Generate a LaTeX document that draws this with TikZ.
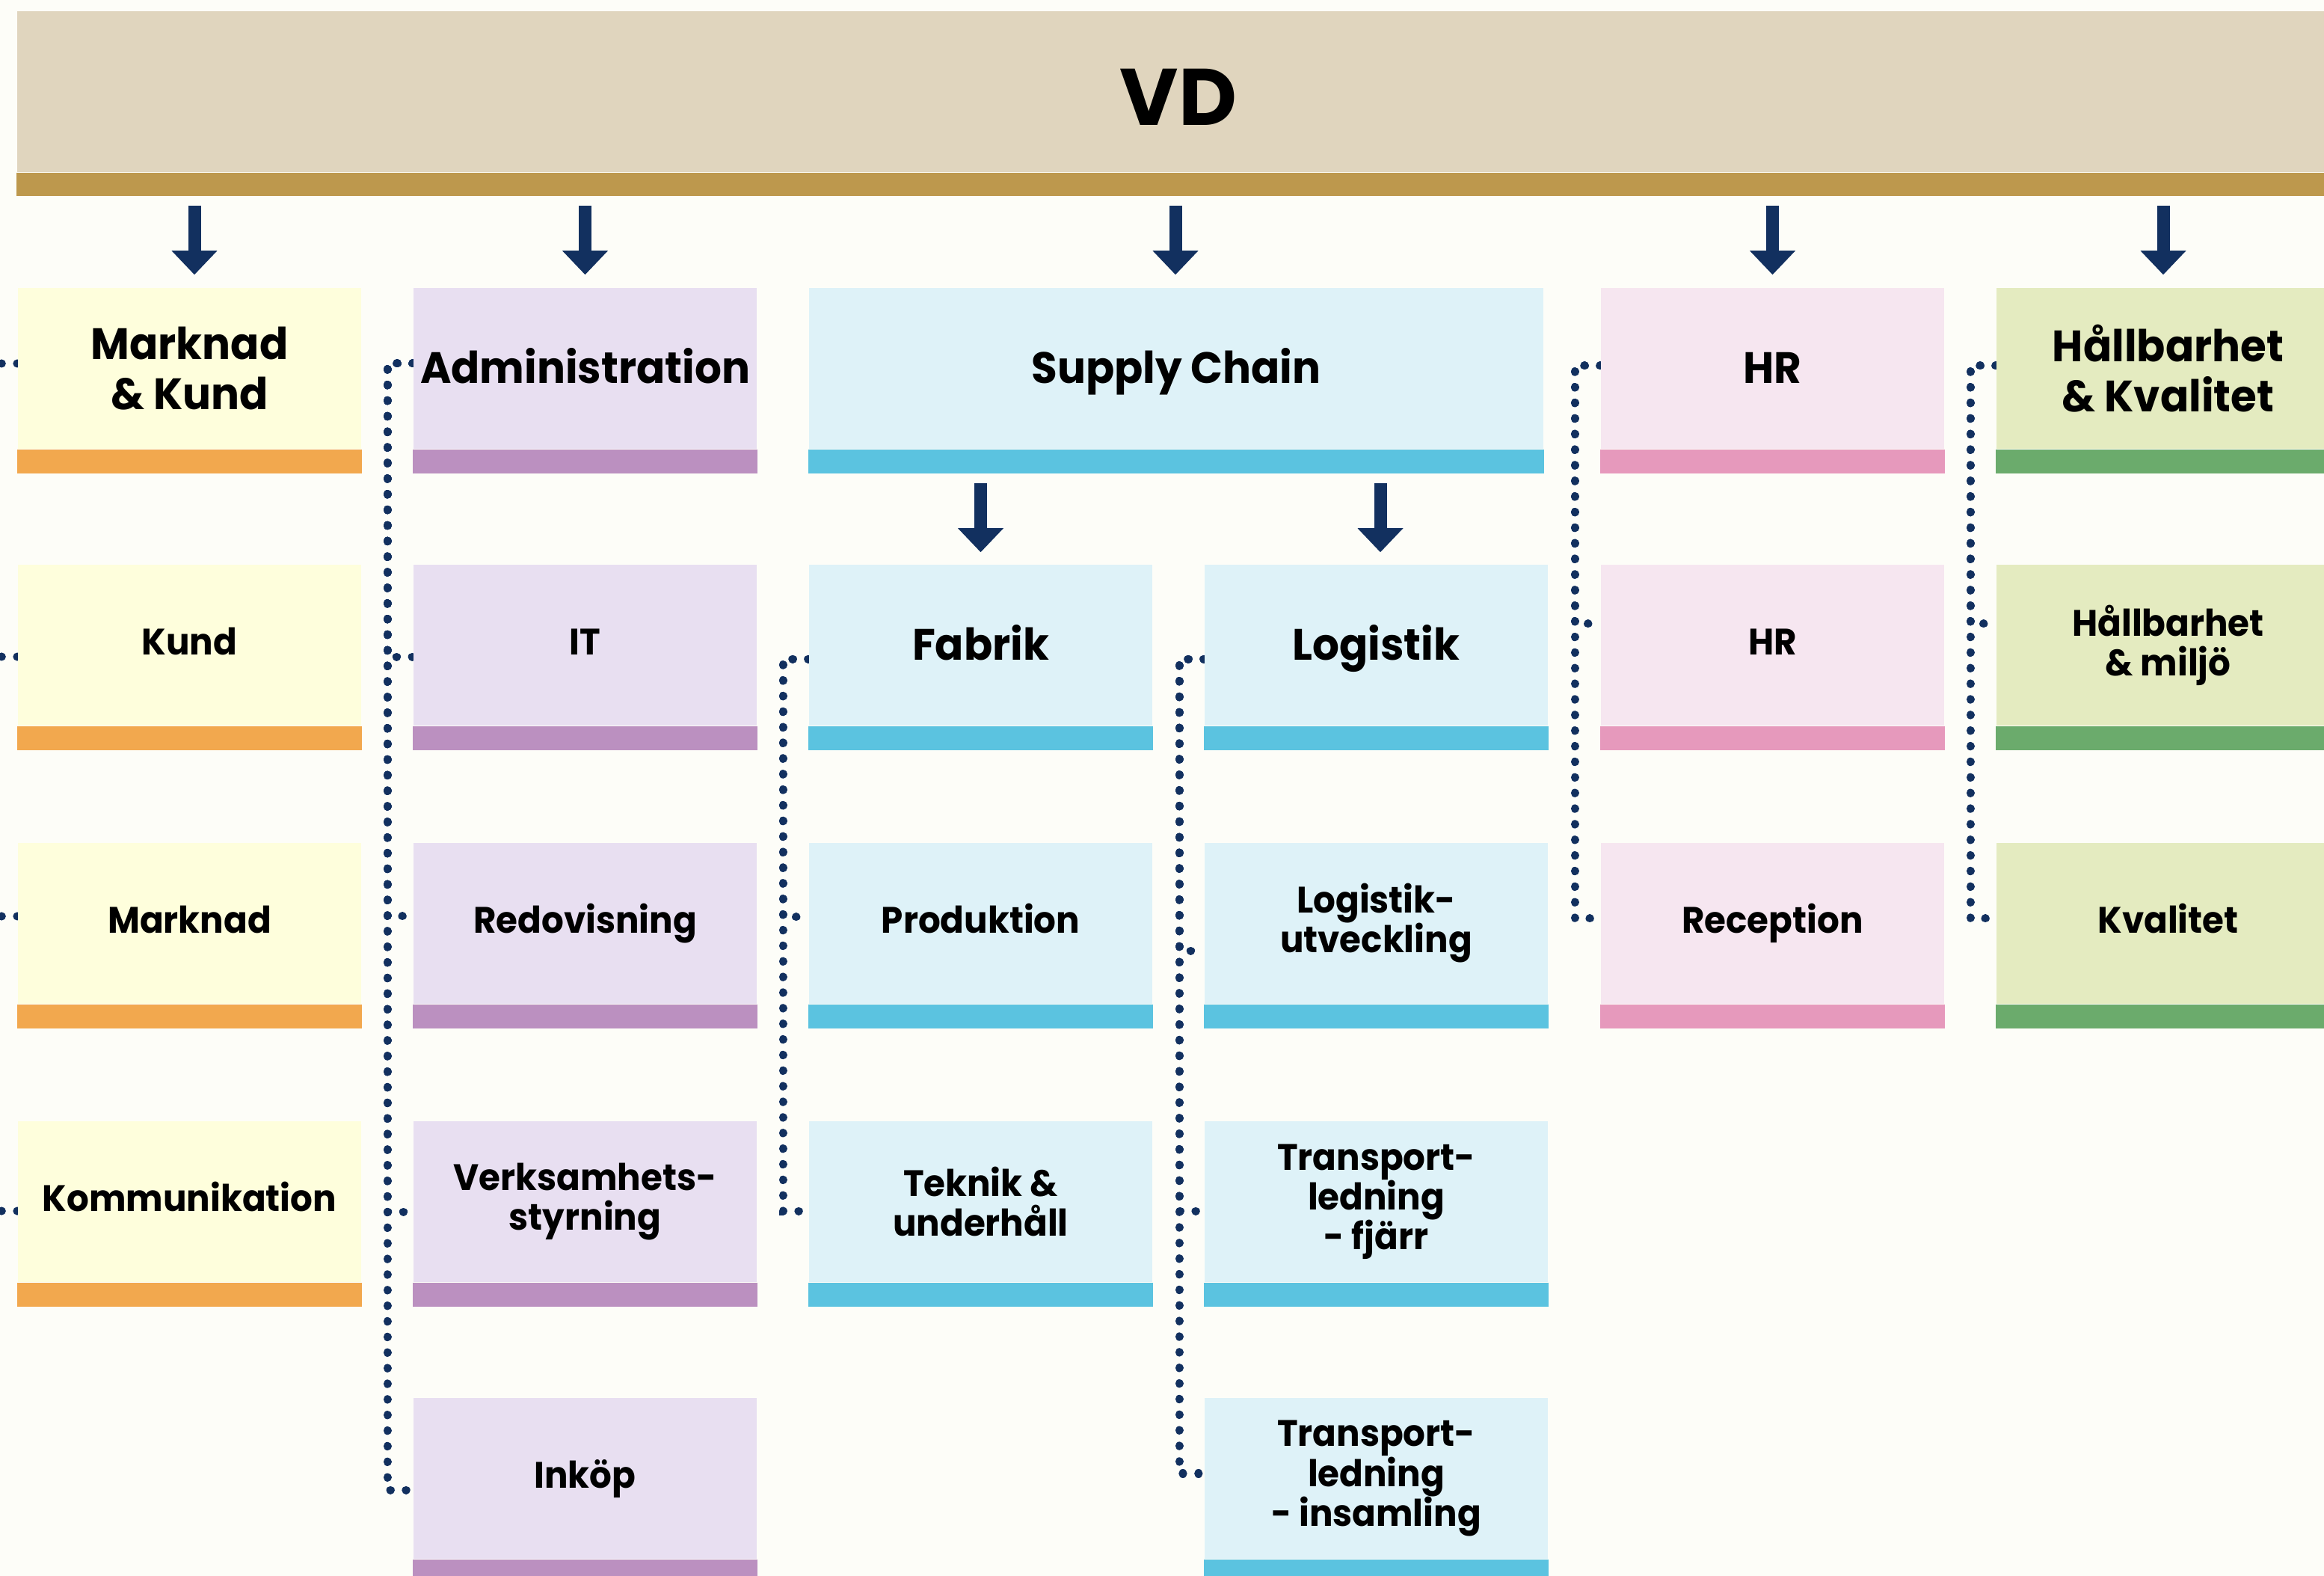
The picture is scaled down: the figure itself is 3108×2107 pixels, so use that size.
\documentclass[tikz,border=0pt]{standalone}
\usepackage{fontspec}
\setmainfont{Poppins}
\newfontfamily\rowfam{Poppins}[FakeStretch=0.95]
\newfontfamily\headfam{Poppins}[FakeStretch=0.96]
\usetikzlibrary{arrows.meta,calc}
\pgfdeclarelayer{back}
\pgfdeclarelayer{conn}
\pgfsetlayers{back,conn,main}
\definecolor{bgc}{HTML}{FDFDF8}
\definecolor{beige}{HTML}{E0D5BE}
\definecolor{gold}{HTML}{BD984D}
\definecolor{navy}{HTML}{12305F}
\definecolor{yelf}{HTML}{FEFEDC}
\definecolor{orab}{HTML}{F2A84E}
\definecolor{lavf}{HTML}{E8DFF1}
\definecolor{purb}{HTML}{BB90C0}
\definecolor{bluf}{HTML}{DEF2F8}
\definecolor{blub}{HTML}{5BC3E0}
\definecolor{pinf}{HTML}{F6E6F0}
\definecolor{pinb}{HTML}{E699BC}
\definecolor{grnf}{HTML}{E4EBC0}
\definecolor{grnb}{HTML}{6BAB6C}
\newcommand\myrowfont{\rowfam\fontsize{14}{15.1}\selectfont\bfseries}
\newcommand\myheadfont{\headfam\fontsize{16.7}{19.1}\selectfont\bfseries}
\newcommand\myvdfont{\fontsize{30.5}{32}\selectfont\bfseries}
\begin{document}
\begin{tikzpicture}[x=0.01cm,y=-0.01cm,
  box/.style={rectangle,fill=#1,minimum width=4.59cm,minimum height=2.15cm,
    inner sep=0pt,align=center,font=\myrowfont,text=black},
  headbox/.style={box=#1,font=\myheadfont},
  one/.style={text height=0.26cm,text depth=0pt},
  onehead/.style={text height=0.39cm,text depth=0pt},
  banner/.style={rectangle,fill=beige,minimum width=31.04cm,minimum height=2.15cm,inner sep=0pt},
  bigarrow/.style={draw=navy,line width=0.17cm,
    -{Triangle[width=0.61cm,length=0.32cm,line width=0pt]}},
  dotline/.style={draw=navy,line width=0.11cm,line cap=round,dash pattern=on 0.1pt off 0.205cm}]
\useasboundingbox (0,0) rectangle (3108,2107);
\begin{pgfonlayer}{back}
  \fill[bgc] (0,0) rectangle (3108,2107);
\end{pgfonlayer}

% banner
\node[banner] (vd) at (1576,122.5) {};
\node[font=\myvdfont,inner sep=0pt] (vdlabel) at ([yshift=-0.075cm]vd.center) {VD};

% column 1
\node[headbox=yelf]     (mk)   at (253.5,492.5)  {Marknad\\\& Kund};
\node[box=yelf,one]     (kund) at (253.5,862.5)  {Kund};
\node[box=yelf,one]     (mark) at (253.5,1234.5) {Marknad};
\node[box=yelf,one]     (komm) at (253.5,1606.5) {Kommunikation};
% column 2
\node[headbox=lavf,onehead] (adm)   at (782.5,492.5)  {Administration};
\node[box=lavf,one]     (it)    at (782.5,862.5)  {IT};
\node[box=lavf,one]     (redo)  at (782.5,1234.5) {Redovisning};
\node[box=lavf]         (verk)  at (782.5,1606.5) {Verksamhets-\\styrning};
\node[box=lavf,one]     (inkop) at (782.5,1976.5) {Inköp};
% supply chain
\node[headbox=bluf,onehead,minimum width=9.82cm] (sc) at (1573,492.5) {Supply Chain};
\node[headbox=bluf,onehead] (fab)  at (1311.5,862.5)  {Fabrik};
\node[box=bluf,one]     (prod) at (1311.5,1234.5) {Produktion};
\node[box=bluf]         (tek)  at (1311.5,1606.5) {Teknik \&\\underhåll};
\node[headbox=bluf,onehead] (log)  at (1840.5,862.5)  {Logistik};
\node[box=bluf]         (logu) at (1840.5,1234.5) {Logistik-\\utveckling};
\node[box=bluf]         (tpf)  at (1840.5,1606.5) {Transport-\\ledning\\- fjärr};
\node[box=bluf]         (tpi)  at (1840.5,1976.5) {Transport-\\ledning\\- insamling};
% HR
\node[headbox=pinf,onehead] (hr)  at (2370.5,492.5)  {HR};
\node[box=pinf,one]     (hr2) at (2370.5,862.5)  {HR};
\node[box=pinf,one]     (rec) at (2370.5,1234.5) {Reception};
% Hallbarhet
\node[headbox=grnf]     (hk)   at (2899.5,492.5)  {Hållbarhet\\\& Kvalitet};
\node[box=grnf]         (hm)   at (2899.5,862.5)  {Hållbarhet\\\& miljö};
\node[box=grnf,one]     (kval) at (2899.5,1234.5) {Kvalitet};

% coloured bars
\fill[gold] (vd.south west) rectangle ([yshift=-0.31cm]vd.south east);
\foreach \n/\c in {mk/orab,kund/orab,mark/orab,komm/orab,
                   adm/purb,it/purb,redo/purb,verk/purb,inkop/purb,
                   sc/blub,fab/blub,prod/blub,tek/blub,log/blub,logu/blub,tpf/blub,tpi/blub,
                   hr/pinb,hr2/pinb,rec/pinb,hk/grnb,hm/grnb,kval/grnb}
  \fill[\c] (\n.south west) rectangle ([yshift=-0.32cm]\n.south east);

% solid arrows
\draw[bigarrow] ([xshift=0.065cm,yshift=-0.44cm]vd.south -| mk.north) -- ([xshift=0.065cm,yshift=0.17cm]mk.north);
\draw[bigarrow] ([yshift=-0.44cm]vd.south -| adm.north) -- ([yshift=0.17cm]adm.north);
\draw[bigarrow] ([xshift=-0.01cm,yshift=-0.44cm]vd.south -| sc.north) -- ([xshift=-0.01cm,yshift=0.17cm]sc.north);
\draw[bigarrow] ([yshift=-0.44cm]vd.south -| hr.north) -- ([yshift=0.17cm]hr.north);
\draw[bigarrow] ([xshift=-0.065cm,yshift=-0.44cm]vd.south -| hk.north) -- ([xshift=-0.065cm,yshift=0.17cm]hk.north);
\draw[bigarrow] ([yshift=-0.45cm]sc.south -| fab.north) -- ([yshift=0.16cm]fab.north);
\draw[bigarrow] ([xshift=0.055cm,yshift=-0.45cm]sc.south -| log.north) -- ([xshift=0.055cm,yshift=0.16cm]log.north);

% dotted connectors
\coordinate (lmk)   at (2,486);
\coordinate (lkund) at (2,878);
\coordinate (lmark) at (2,1225);
\coordinate (lkomm) at (2,1619);
\begin{pgfonlayer}{conn}
  \draw[dotline] (lmk)   -- ([yshift=0.065cm]mk.west);
  \draw[dotline] (lkund) -- ([yshift=-0.155cm]kund.west);
  \draw[dotline] (lmark) -- ([yshift=0.095cm]mark.west);
  \draw[dotline] (lkomm) -- ([yshift=-0.125cm]komm.west);
  \foreach \ch/\t in {it/-0.155cm,redo/0.095cm,verk/-0.135cm,inkop/-0.155cm}
    \draw[dotline] ([yshift=0.065cm]adm.west) -- ++(-0.34cm,0) |- ([yshift=\t]\ch.west);
  \foreach \ch/\t in {prod/0.085cm,tek/-0.125cm}
    \draw[dotline] ([yshift=-0.185cm]fab.west) -- ++(-0.34cm,0) |- ([yshift=\t]\ch.west);
  \foreach \ch/\t in {logu/-0.365cm,tpf/-0.125cm,tpi/0.065cm}
    \draw[dotline] ([yshift=-0.185cm]log.west) -- ++(-0.33cm,0) |- ([yshift=\t]\ch.west);
  \foreach \ch/\t in {hr2/0.285cm,rec/0.065cm}
    \draw[dotline] ([yshift=0.035cm]hr.west) -- ++(-0.34cm,0) |- ([yshift=\t]\ch.west);
  \foreach \ch/\t in {hm/0.285cm,kval/0.065cm}
    \draw[dotline] ([yshift=0.035cm]hk.west) -- ++(-0.34cm,0) |- ([yshift=\t]\ch.west);
\end{pgfonlayer}
\end{tikzpicture}
\end{document}
